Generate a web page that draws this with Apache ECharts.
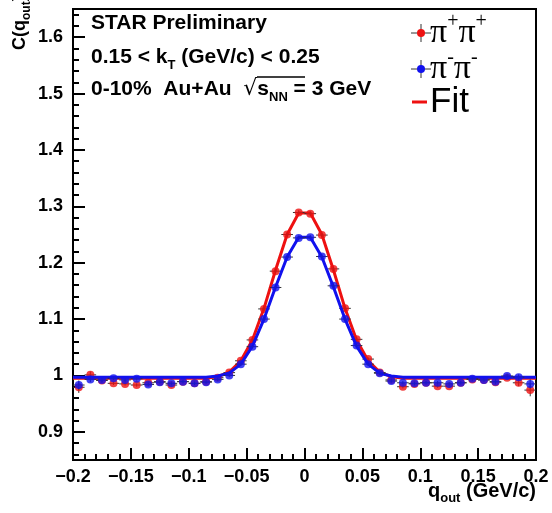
<!DOCTYPE html>
<html>
<head>
<meta charset="utf-8">
<script src="https://cdn.jsdelivr.net/npm/echarts@6/dist/echarts.min.js"></script>
<style>
  html, body { margin: 0; padding: 0; background: #fff; }
  #chart { width: 552px; height: 513px; }
</style>
</head>
<body>
<div id="chart"></div>
<script>
// bin centres of q_out (GeV/c)
const qBins = [-0.195, -0.185, -0.175, -0.165, -0.155, -0.145, -0.135, -0.125, -0.115, -0.105,
  -0.095, -0.085, -0.075, -0.065, -0.055, -0.045, -0.035, -0.025, -0.015, -0.005,
  0.005, 0.015, 0.025, 0.035, 0.045, 0.055, 0.065, 0.075, 0.085, 0.095,
  0.105, 0.115, 0.125, 0.135, 0.145, 0.155, 0.165, 0.175, 0.185, 0.195];

// pi+pi+ correlation
const piPlus = [0.979, 1.001, 0.991, 0.986, 0.985, 0.983, 0.987, 0.989, 0.983, 0.989,
  0.986, 0.989, 0.996, 1.005, 1.026, 1.063, 1.118, 1.185, 1.250, 1.289,
  1.287, 1.249, 1.189, 1.119, 1.064, 1.029, 1.005, 0.992, 0.980, 0.985,
  0.987, 0.981, 0.981, 0.987, 0.993, 0.992, 0.988, 0.996, 0.987, 0.974];
const piPlusErr = [0.010, 0.006, 0.004, 0.003, 0.003, 0.003, 0.003, 0.003, 0.003, 0.003,
  0.003, 0.003, 0.003, 0.003, 0.003, 0.004, 0.004, 0.004, 0.004, 0.004,
  0.004, 0.004, 0.004, 0.004, 0.004, 0.003, 0.003, 0.003, 0.003, 0.003,
  0.003, 0.003, 0.003, 0.003, 0.003, 0.003, 0.004, 0.004, 0.006, 0.011];

// pi-pi- correlation
const piMinus = [0.983, 0.993, 0.992, 0.995, 0.992, 0.994, 0.984, 0.988, 0.986, 0.989,
  0.986, 0.988, 0.993, 1.000, 1.020, 1.051, 1.100, 1.156, 1.210, 1.244,
  1.245, 1.211, 1.159, 1.100, 1.053, 1.020, 1.004, 0.990, 0.987, 0.986,
  0.987, 0.987, 0.985, 0.987, 0.994, 0.992, 0.989, 0.999, 0.997, 0.985];
const piMinusErr = [0.008, 0.005, 0.004, 0.003, 0.003, 0.003, 0.003, 0.003, 0.003, 0.003,
  0.003, 0.003, 0.003, 0.003, 0.003, 0.003, 0.004, 0.004, 0.004, 0.004,
  0.004, 0.004, 0.004, 0.004, 0.003, 0.003, 0.003, 0.003, 0.003, 0.003,
  0.003, 0.003, 0.003, 0.003, 0.003, 0.003, 0.004, 0.004, 0.005, 0.008];

// fit curves, read at the range edges and the bin centres
const fitQ = [-0.2, -0.195, -0.185, -0.175, -0.165, -0.155, -0.145, -0.135, -0.125, -0.115, -0.105,
  -0.095, -0.085, -0.075, -0.065, -0.055, -0.045, -0.035, -0.025, -0.015, -0.005,
  0.005, 0.015, 0.025, 0.035, 0.045, 0.055, 0.065, 0.075, 0.085, 0.095,
  0.105, 0.115, 0.125, 0.135, 0.145, 0.155, 0.165, 0.175, 0.185, 0.195, 0.2];
const fitPlus = [0.995, 0.995, 0.995, 0.995, 0.995, 0.995, 0.995, 0.995, 0.995, 0.995, 0.995,
  0.995, 0.995, 0.998, 1.006, 1.026, 1.063, 1.119, 1.187, 1.250, 1.288,
  1.288, 1.250, 1.187, 1.119, 1.063, 1.026, 1.006, 0.998, 0.995, 0.995,
  0.995, 0.995, 0.995, 0.995, 0.995, 0.995, 0.995, 0.995, 0.995, 0.995, 0.995];
const fitMinus = [0.997, 0.997, 0.997, 0.997, 0.997, 0.997, 0.997, 0.997, 0.997, 0.997, 0.997,
  0.997, 0.997, 0.999, 1.004, 1.020, 1.052, 1.100, 1.157, 1.210, 1.245,
  1.245, 1.210, 1.157, 1.100, 1.052, 1.020, 1.004, 0.999, 0.997, 0.997,
  0.997, 0.997, 0.997, 0.997, 0.997, 0.997, 0.997, 0.997, 0.997, 0.997, 0.997];

const yLabels = [0.9, 1.0, 1.1, 1.2, 1.3, 1.4, 1.5, 1.6];
const binHalf = 0.005;

const RED = "#ee1111";
const BLUE = "#1111ee";
const FONT = "Liberation Sans, Arial, sans-serif";

let yMinor = [];
for (let v = 86; v <= 164; v += 2) yMinor.push(v / 100);

function pairs(xs, ys) {
  return xs.map((x, i) => [x, ys[i]]);
}
function errData(xs, ys, es) {
  return xs.map((x, i) => [x, ys[i], es[i]]);
}
function errRender(params, api) {
  const q = api.value(0), v = api.value(1), e = api.value(2);
  const l = api.coord([q - binHalf, v]);
  const r = api.coord([q + binHalf, v]);
  const t = api.coord([q, v + e]);
  const b = api.coord([q, v - e]);
  const st = { stroke: "#333", lineWidth: 1 };
  return {
    type: "group",
    children: [
      { type: "line", shape: { x1: l[0], y1: l[1], x2: r[0], y2: r[1] }, style: st },
      { type: "line", shape: { x1: t[0], y1: t[1], x2: b[0], y2: b[1] }, style: st },
    ],
  };
}

const chart = echarts.init(document.getElementById("chart"), null, { renderer: "canvas" });

const labelStyle = { fontFamily: FONT, fontWeight: "bold", fontSize: 18, color: "#000" };
const tickLine = { color: "#000", width: 2 };

// rich text pieces: normal, subscript, superscript
function richText(size, subSize, family, weight) {
  return {
    n: { fontFamily: family, fontWeight: weight, fontSize: size, lineHeight: size + 8, verticalAlign: "middle", fill: "#000" },
    s: { fontFamily: family, fontWeight: weight, fontSize: subSize, lineHeight: subSize + 1, verticalAlign: "bottom", fill: "#000" },
    u: { fontFamily: family, fontWeight: weight, fontSize: subSize, lineHeight: subSize + 1, verticalAlign: "top", fill: "#000" },
  };
}

chart.setOption({
  animation: false,
  backgroundColor: "#fff",
  grid: {
    left: 73, right: 16, top: 9, bottom: 53,
    show: true, borderColor: "#000", borderWidth: 2,
  },
  xAxis: {
    type: "value",
    min: -0.2, max: 0.2, interval: 0.05,
    axisLine: { onZero: false, lineStyle: tickLine },
    axisTick: { inside: true, length: 12, lineStyle: tickLine },
    minorTick: { show: true, splitNumber: 5, length: 6, lineStyle: tickLine },
    splitLine: { show: false },
    axisLabel: Object.assign({}, labelStyle, {
      margin: 8,
      showMinLabel: true, showMaxLabel: true,
      formatter: (v) => {
        const s = String(parseFloat(Math.abs(v).toFixed(3)));
        return v < -1e-9 ? "\u2212" + s : s;
      },
    }),
  },
  yAxis: [
    {
      type: "value",
      min: 0.85, max: 1.65,
      position: "left",
      axisLine: { show: true, onZero: false, lineStyle: tickLine },
      axisTick: { inside: true, length: 12, customValues: yLabels, lineStyle: tickLine },
      splitLine: { show: false },
      axisLabel: Object.assign({}, labelStyle, {
        margin: 10,
        customValues: yLabels,
        formatter: (v) => String(parseFloat(v.toFixed(2))),
      }),
    },
    {
      type: "value",
      min: 0.85, max: 1.65,
      position: "left",
      axisLine: { show: false, onZero: false },
      axisLabel: { show: false },
      splitLine: { show: false },
      axisTick: { show: true, inside: true, length: 6, customValues: yMinor, lineStyle: tickLine },
    },
  ],
  series: [
    {
      name: "Fit +", type: "line", data: pairs(fitQ, fitPlus),
      showSymbol: false, lineStyle: { color: RED, width: 3 }, z: 2,
    },
    {
      name: "err +", type: "custom", renderItem: errRender,
      data: errData(qBins, piPlus, piPlusErr), encode: { x: 0, y: 1 }, z: 3,
    },
    {
      name: "\u03c0+\u03c0+", type: "scatter", data: pairs(qBins, piPlus),
      symbol: "circle", symbolSize: 8, itemStyle: { color: RED }, z: 4,
    },
    {
      name: "Fit -", type: "line", data: pairs(fitQ, fitMinus),
      showSymbol: false, lineStyle: { color: BLUE, width: 3 }, z: 5,
    },
    {
      name: "err -", type: "custom", renderItem: errRender,
      data: errData(qBins, piMinus, piMinusErr), encode: { x: 0, y: 1 }, z: 6,
    },
    {
      name: "\u03c0-\u03c0-", type: "scatter", data: pairs(qBins, piMinus),
      symbol: "circle", symbolSize: 8, itemStyle: { color: BLUE }, z: 7,
    },
  ],
  graphic: [
    // y axis title, starting beside the top label and running up to the page edge
    {
      type: "text", x: 20, y: 50, rotation: Math.PI / 2,
      style: {
        text: "{n|C(q}{s|out}{n|)}",
        align: "left", verticalAlign: "middle",
        rich: richText(18, 12, FONT, "bold"),
      },
    },
    // x axis title
    {
      type: "text", x: 536, y: 491,
      style: {
        text: "{n|q}{s|out}{n| (GeV/c)}",
        align: "right", verticalAlign: "middle",
        rich: richText(20, 13, FONT, "bold"),
      },
    },
    // annotations
    {
      type: "text", x: 91, y: 23,
      style: { text: "STAR Preliminary", font: "bold 21px " + FONT, fill: "#000", verticalAlign: "middle" },
    },
    {
      type: "text", x: 91, y: 57,
      style: {
        text: "{n|0.15 < k}{s|T}{n| (GeV/c) < 0.25}",
        verticalAlign: "middle",
        rich: richText(21, 13, FONT, "bold"),
      },
    },
    {
      type: "text", x: 91, y: 89,
      style: {
        text: "{n|0-10%  Au+Au  }{r|\u221a}{n|s}{s|NN}{n| = 3 GeV}",
        verticalAlign: "middle",
        rich: Object.assign(richText(21, 13, FONT, "bold"), {
          r: { fontFamily: "DejaVu Sans", fontSize: 22, lineHeight: 29, verticalAlign: "middle", fill: "#000" },
        }),
      },
    },
    {
      type: "line", shape: { x1: 257, y1: 77, x2: 305, y2: 77 },
      style: { stroke: "#000", lineWidth: 1.5 },
    },
    // legend
    { type: "line", shape: { x1: 411, y1: 33, x2: 431, y2: 33 }, style: { stroke: "#333", lineWidth: 1 } },
    { type: "line", shape: { x1: 421, y1: 24, x2: 421, y2: 42 }, style: { stroke: "#333", lineWidth: 1 } },
    { type: "circle", shape: { cx: 421, cy: 33, r: 4 }, style: { fill: RED } },
    {
      type: "text", x: 430, y: 33,
      style: {
        text: "{n|\u03c0}{u|+}{n|\u03c0}{u|+}",
        verticalAlign: "middle",
        rich: richText(34, 20, "Liberation Serif", "normal"),
      },
    },
    { type: "line", shape: { x1: 411, y1: 69, x2: 431, y2: 69 }, style: { stroke: "#333", lineWidth: 1 } },
    { type: "line", shape: { x1: 421, y1: 60, x2: 421, y2: 78 }, style: { stroke: "#333", lineWidth: 1 } },
    { type: "circle", shape: { cx: 421, cy: 69, r: 4 }, style: { fill: BLUE } },
    {
      type: "text", x: 430, y: 69,
      style: {
        text: "{n|\u03c0}{u|-}{n|\u03c0}{u|-}",
        verticalAlign: "middle",
        rich: richText(34, 20, "Liberation Serif", "normal"),
      },
    },
    { type: "line", shape: { x1: 412, y1: 102, x2: 427, y2: 102 }, style: { stroke: RED, lineWidth: 3 } },
    {
      type: "text", x: 430, y: 102,
      style: { text: "Fit", font: "35px " + FONT, fill: "#000", verticalAlign: "middle" },
    },
  ],
});
</script>
</body>
</html>
